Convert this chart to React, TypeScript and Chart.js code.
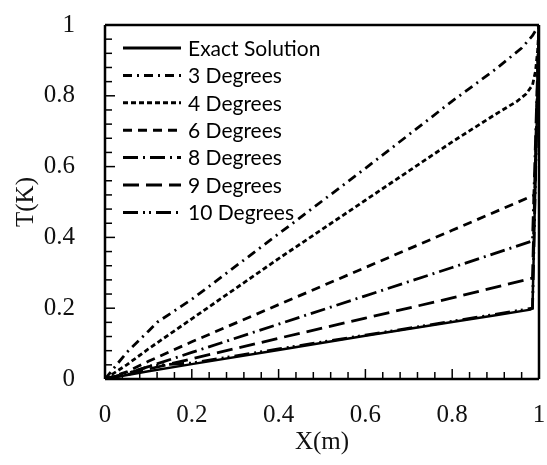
import React, { useEffect, useRef } from "react";
import { Chart, registerables } from "chart.js";

Chart.register(...registerables);

const xExact = [0, 0.1, 0.2, 0.4, 0.6, 0.8, 0.9, 0.98, 0.985, 1];
const yExact = [0, 0.022, 0.042, 0.082, 0.122, 0.161, 0.18, 0.196, 0.2, 1];

const x3 = [0, 0.02, 0.05, 0.1, 0.12, 0.2, 0.4, 0.6, 0.8, 0.9, 0.96, 0.985, 1];
const y3 = [0, 0.03, 0.075, 0.135, 0.16, 0.225, 0.41, 0.595, 0.785, 0.875, 0.935, 0.97, 1];

const x4 = [0, 0.05, 0.1, 0.2, 0.4, 0.6, 0.8, 0.9, 0.95, 0.97, 0.985, 0.992, 0.997, 1];
const y4 = [0, 0.04, 0.085, 0.17, 0.34, 0.505, 0.67, 0.748, 0.785, 0.805, 0.83, 0.87, 0.93, 1];

const x6 = [0, 0.05, 0.1, 0.2, 0.4, 0.6, 0.8, 0.99, 1];
const y6 = [0, 0.02, 0.05, 0.105, 0.21, 0.315, 0.42, 0.52, 1];

const x8 = [0, 0.05, 0.1, 0.2, 0.4, 0.6, 0.8, 0.985, 1];
const y8 = [0, 0.015, 0.035, 0.075, 0.155, 0.235, 0.315, 0.39, 1];

const x9 = [0, 0.05, 0.1, 0.2, 0.4, 0.6, 0.8, 0.985, 1];
const y9 = [0, 0.012, 0.028, 0.057, 0.115, 0.172, 0.229, 0.285, 1];

const x10 = [0, 0.05, 0.1, 0.13, 0.2, 0.4, 0.6, 0.8, 0.985, 1];
const y10 = [0, 0.015, 0.035, 0.04, 0.045, 0.085, 0.124, 0.163, 0.2, 1];

const seriesNames = ["Exact Solution", "3 Degrees", "4 Degrees", "6 Degrees", "8 Degrees", "9 Degrees", "10 Degrees"];
const axisTickLabels = [0, 0.2, 0.4, 0.6, 0.8, 1];

const dashes: number[][] = [
  [],
  [9, 5, 2, 5],
  [5, 3],
  [9, 6],
  [15, 5, 2, 5],
  [16, 7],
  [15, 5, 2, 4, 2, 5],
];

const pts = (xs: number[], ys: number[]) => xs.map((x, i) => ({ x, y: ys[i] }));

const seg = (ctx: any, x1: number, y1: number, x2: number, y2: number) => {
  ctx.beginPath();
  ctx.moveTo(x1, y1);
  ctx.lineTo(x2, y2);
  ctx.stroke();
};

const frameAndLegend = {
  id: "frameAndLegend",
  afterDraw(chart: any) {
    const { ctx, chartArea } = chart;
    const left = chartArea.left;
    const right = chartArea.right;
    const top = chartArea.top;
    const bottom = chartArea.bottom;
    ctx.save();
    ctx.globalAlpha = 1;
    ctx.globalCompositeOperation = "source-over";
    ctx.strokeStyle = "#000000";
    ctx.setLineDash([]);
    ctx.lineDashOffset = 0;
    ctx.lineWidth = 1.5;
    for (let i = 1; i < 25; i++) {
      const f = i / 25;
      const len = i % 5 === 0 ? 10 : 7;
      const py = bottom - (bottom - top) * f;
      const px = left + (right - left) * f;
      seg(ctx, left, py, left + len, py);
      seg(ctx, px, bottom, px, bottom - len);
    }
    ctx.lineWidth = 2.5;
    seg(ctx, left, top, right, top);
    seg(ctx, right, top, right, bottom);
    seg(ctx, left, bottom, right, bottom);
    seg(ctx, left, top, left, bottom);
    const lx0 = 123;
    const lx1 = 181;
    const tx = 188;
    const y0 = 48;
    const dy = 27.4;
    ctx.font = "21px Lato";
    ctx.fillStyle = "#000";
    ctx.textBaseline = "middle";
    ctx.textAlign = "left";
    chart.data.datasets.forEach((ds: any, i: number) => {
      const yy = y0 + i * dy;
      ctx.lineWidth = 3;
      ctx.setLineDash(ds.borderDash || []);
      seg(ctx, lx0, yy, lx1, yy);
      ctx.setLineDash([]);
      ctx.fillText(ds.label, tx, yy + 1);
    });
    ctx.restore();
  },
};

export default function App() {
  const ref = useRef<HTMLCanvasElement | null>(null);
  useEffect(() => {
    document.body.style.margin = "0";
    const allX = [xExact, x3, x4, x6, x8, x9, x10];
    const allY = [yExact, y3, y4, y6, y8, y9, y10];
    const datasets = seriesNames.map((name, i) => ({
      label: name,
      data: pts(allX[i], allY[i]),
      borderColor: "#000",
      backgroundColor: "#000",
      borderWidth: i === 0 ? 2.5 : 2.8,
      borderDash: dashes[i],
      pointRadius: 0,
      tension: 0,
      fill: false,
      order: i === 0 ? 0 : 1,
    }));
    const serif = "'Liberation Serif', 'Times New Roman', serif";
    const chart = new Chart(ref.current as HTMLCanvasElement, {
      type: "line",
      data: { datasets },
      options: {
        animation: false,
        responsive: false,
        devicePixelRatio: 1,
        layout: { padding: { left: 0, right: 8, top: 25, bottom: 0 } },
        plugins: { legend: { display: false }, tooltip: { enabled: false } },
        scales: {
          x: {
            type: "linear",
            min: 0,
            max: 1,
            afterFit: (s: any) => {
              s.height = 86;
              s.paddingLeft = 0;
              s.paddingRight = 0;
            },
            afterBuildTicks: (s: any) => {
              s.ticks = axisTickLabels.map((v) => ({ value: v }));
            },
            grid: { display: false },
            border: { display: false },
            ticks: {
              padding: 13,
              color: "#111",
              font: { family: serif, size: 25 },
              callback: (v: any) => String(Math.round(Number(v) * 10) / 10),
              maxRotation: 0,
              autoSkip: false,
            },
            title: {
              display: true,
              text: "X(m)",
              color: "#111",
              padding: { top: 0, bottom: 8 },
              font: { family: serif, size: 25 },
            },
          },
          y: {
            type: "linear",
            min: 0,
            max: 1,
            afterFit: (s: any) => {
              s.width = 105;
              s.paddingTop = 0;
              s.paddingBottom = 0;
            },
            afterBuildTicks: (s: any) => {
              s.ticks = axisTickLabels.map((v) => ({ value: v }));
            },
            grid: { display: false },
            border: { display: false },
            ticks: {
              padding: 22,
              color: "#111",
              font: { family: serif, size: 25 },
              callback: (v: any) => String(Math.round(Number(v) * 10) / 10),
              autoSkip: false,
            },
            title: {
              display: true,
              text: "T(K)",
              color: "#111",
              padding: { top: 11, bottom: 0 },
              font: { family: serif, size: 25 },
            },
          },
        },
      },
      plugins: [frameAndLegend],
    } as any);
    return () => chart.destroy();
  }, []);
  return (
    <div style={{ position: "absolute", left: 0, top: 0, width: 547, height: 465, background: "#fff" }}>
      <canvas ref={ref} width={547} height={465} style={{ display: "block" }} />
    </div>
  );
}
